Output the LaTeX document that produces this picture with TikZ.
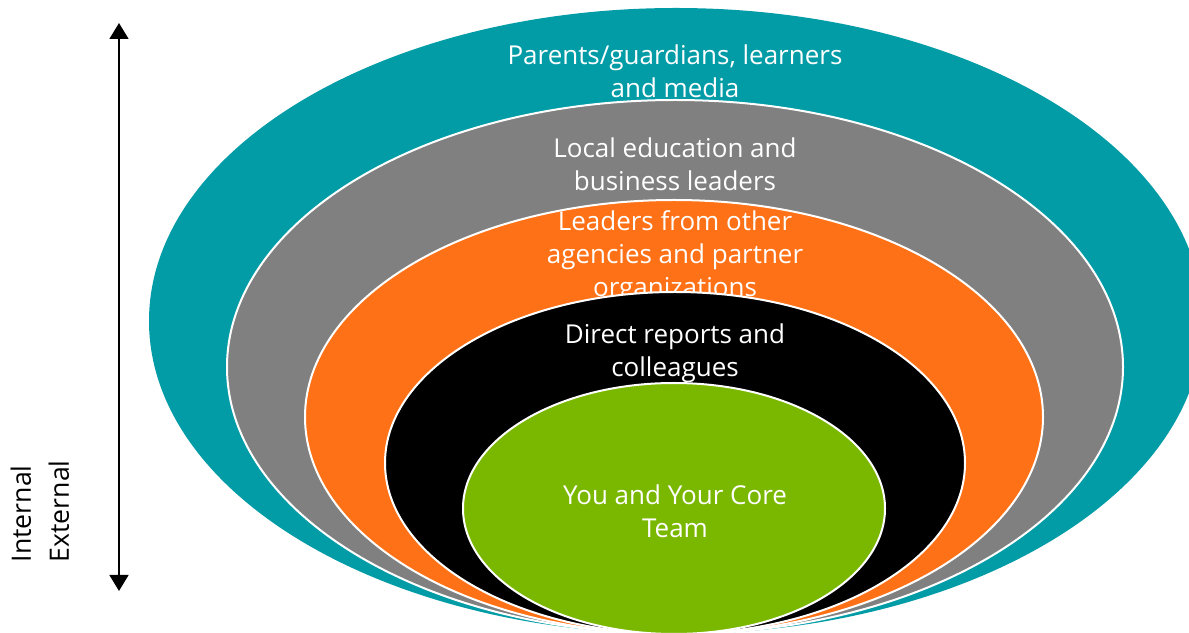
\documentclass[tikz,border=0pt]{standalone}
\usepackage{fontspec}
\setmainfont{Open Sans}
\usetikzlibrary{arrows.meta}
\definecolor{ringteal}{RGB}{2,156,167}
\definecolor{ringgray}{RGB}{128,128,128}
\definecolor{ringorange}{RGB}{255,113,22}
\definecolor{ringblack}{RGB}{0,0,0}
\definecolor{ringgreen}{RGB}{122,184,0}
\begin{document}
\begin{tikzpicture}[x=0.75pt,y=0.75pt,
  ring/.style={draw=white,line width=1.5pt},
  label/.style={text=white,align=center,font=\fontsize{19.5}{24.75}\selectfont},
  side/.style={text=black,align=left,font=\fontsize{20}{28.5}\selectfont}]
\useasboundingbox (0,0) rectangle (1189,632);
\clip (0,0) rectangle (1189,632);

% nested rings, outermost first; each label is drawn before the next ring
\fill[ringteal] (676,311) ellipse [x radius=527, y radius=313];
\node[label] (outer) at (675,561) {Parents/guardians, learners\\and media};

\filldraw[ring,fill=ringgray] (675,265) ellipse [x radius=448, y radius=267];
\node[label] (local) at (675,468) {Local education and\\business leaders};

\filldraw[ring,fill=ringorange] (674,215) ellipse [x radius=369, y radius=217];
\node[label] (agencies) at (675,375) {Leaders from other\\agencies and partner\\organizations};

\filldraw[ring,fill=ringblack] (675,169) ellipse [x radius=290, y radius=171];
\node[label] (direct) at (675,279) {Direct reports and\\colleagues};

\filldraw[ring,fill=ringgreen] (674,123.5) ellipse [x radius=211, y radius=125.5];
\node[label] (core) at (675,121) {You and Your Core\\Team};

% internal / external axis
\coordinate (top) at (119,609);
\coordinate (bottom) at (119,41);
\draw[line width=2pt,{Triangle[width=14pt,length=12pt]}-{Triangle[width=14pt,length=12pt]}] (top) -- (bottom);
\node[side,rotate=90,anchor=north west] (axis) at (6,65) {Internal\\External};
\end{tikzpicture}
\end{document}
